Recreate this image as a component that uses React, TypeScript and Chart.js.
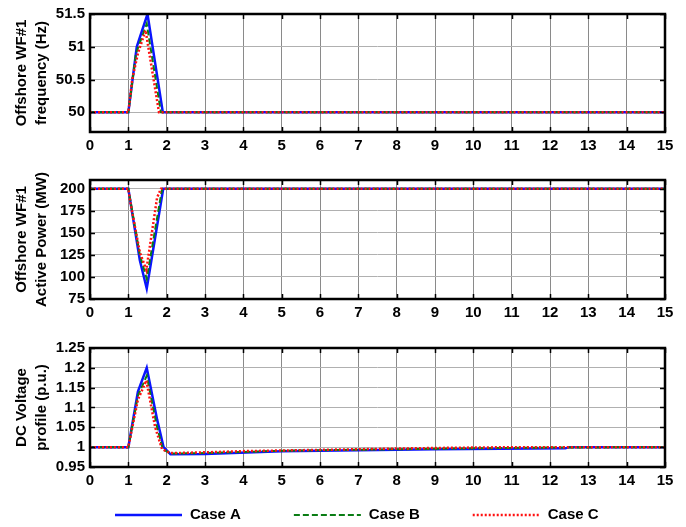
import React, { useEffect, useRef } from "react";
import { Chart, registerables } from "chart.js";

Chart.register(...registerables);

// ---------- data ----------
const xTicks = [0, 1, 2, 3, 4, 5, 6, 7, 8, 9, 10, 11, 12, 13, 14, 15];

const freqTicks = [50, 50.5, 51, 51.5];
const powTicks = [75, 100, 125, 150, 175, 200];
const voltTicks = [0.95, 1, 1.05, 1.1, 1.15, 1.2, 1.25];

const seriesNames = ["Case A", "Case B", "Case C"];

const timeFreqA = [0, 1, 1.22, 1.5, 1.9, 15];
const freqA = [50, 50, 51.0, 51.5, 50, 50];
const timeFreqB = [0, 1, 1.2, 1.48, 1.85, 15];
const freqB = [50, 50, 50.9, 51.35, 50, 50];
const timeFreqC = [0, 1, 1.1, 1.25, 1.45, 1.8, 15];
const freqC = [50, 50, 50.5, 50.9, 51.25, 50, 50];

const timePowA = [0, 1, 1.3, 1.48, 1.91, 15];
const powA = [200, 200, 119, 87, 200, 200];
const timePowB = [0, 1, 1.3, 1.48, 1.88, 15];
const powB = [200, 200, 125, 98, 200, 200];
const timePowC = [0, 1, 1.05, 1.3, 1.47, 1.75, 1.85, 15];
const powC = [200, 200, 185, 128, 108, 190, 200, 200];

const timeVoltA = [0, 1, 1.25, 1.48, 1.75, 1.92, 2.1, 3, 5, 9, 12.4, 12.5, 15];
const voltA = [1, 1, 1.14, 1.2, 1.07, 1.0, 0.982, 0.983, 0.99, 0.995, 0.997, 1.0, 1.0];
const timeVoltB = [0, 1, 1.25, 1.48, 1.75, 1.9, 2.1, 3, 5, 9, 12, 15];
const voltB = [1, 1, 1.13, 1.18, 1.05, 0.995, 0.984, 0.985, 0.991, 0.996, 0.999, 1.0];
const timeVoltC = [0, 1, 1.25, 1.47, 1.7, 1.88, 2.1, 3, 4, 9, 11, 15];
const voltC = [1, 1, 1.12, 1.168, 1.05, 0.995, 0.985, 0.987, 0.99, 0.998, 1.0, 1.0];

// ---------- styles ----------
const FONT = "'Liberation Sans', Arial, Helvetica, sans-serif";
const styles = [
  { color: "#0a14ff", width: 2.5, dash: [] as number[], order: 3 },
  { color: "#0a7d14", width: 2, dash: [6, 3], order: 2 },
  { color: "#ff1010", width: 2.5, dash: [2, 2], order: 1 },
];

const zip = (xs: number[], ys: number[]) => xs.map((x, i) => ({ x, y: ys[i] }));

function makeDatasets(series: [number[], number[]][]) {
  return series.map(([xs, ys], i) => ({
    label: seriesNames[i],
    data: zip(xs, ys),
    borderColor: styles[i].color,
    backgroundColor: styles[i].color,
    borderWidth: styles[i].width,
    borderDash: styles[i].dash,
    pointRadius: 0,
    tension: 0,
    order: styles[i].order,
  }));
}

const framePlugin = {
  id: "frame",
  afterDraw(chart: any) {
    const { ctx, chartArea: a, scales } = chart;
    ctx.save();
    ctx.strokeStyle = "#000";
    ctx.lineWidth = 1.5;
    const L = 5;
    ctx.beginPath();
    for (const v of xTicks) {
      const px = Math.round(scales.x.getPixelForValue(v)) + 0.5;
      ctx.moveTo(px, a.bottom);
      ctx.lineTo(px, a.bottom - L);
      ctx.moveTo(px, a.top);
      ctx.lineTo(px, a.top + L);
    }
    for (const t of scales.y.ticks) {
      const py = Math.round(scales.y.getPixelForValue(t.value)) + 0.5;
      ctx.moveTo(a.left, py);
      ctx.lineTo(a.left + L, py);
      ctx.moveTo(a.right, py);
      ctx.lineTo(a.right - L, py);
    }
    ctx.stroke();
    ctx.lineWidth = 2.5;
    ctx.strokeRect(a.left, a.top, a.right - a.left, a.bottom - a.top);
    ctx.restore();
  },
};

const legendPlugin = {
  id: "bottomLegend",
  afterDraw(chart: any) {
    const opts = chart.options.plugins.bottomLegend;
    if (!opts || !opts.show) return;
    const { ctx } = chart;
    const y = opts.y;
    let x = opts.x;
    ctx.save();
    ctx.font = `bold 15px ${FONT}`;
    ctx.textBaseline = "middle";
    ctx.fillStyle = "#000";
    chart.data.datasets.forEach((ds: any) => {
      ctx.beginPath();
      ctx.strokeStyle = ds.borderColor;
      ctx.lineWidth = ds.borderWidth;
      ctx.setLineDash(ds.borderDash || []);
      ctx.moveTo(x, y);
      ctx.lineTo(x + opts.lineLen, y);
      ctx.stroke();
      ctx.setLineDash([]);
      x += opts.lineLen + 8;
      ctx.fillText(ds.label, x, y);
      x += ctx.measureText(ds.label).width + opts.gap;
    });
    ctx.restore();
  },
};

type PanelProps = {
  top: number;
  height: number;
  padTop: number;
  padBottom: number;
  series: [number[], number[]][];
  yMin: number;
  yMax: number;
  yTicks: number[];
  title: string[];
  legend?: boolean;
};

function Panel(p: PanelProps) {
  const ref = useRef<HTMLCanvasElement>(null);
  useEffect(() => {
    const chart = new Chart(ref.current as HTMLCanvasElement, {
      type: "line",
      data: { datasets: makeDatasets(p.series) as any },
      plugins: [framePlugin, legendPlugin],
      options: {
        responsive: false,
        animation: false,
        layout: { padding: { top: p.padTop, right: 21, left: 0, bottom: p.padBottom } },
        plugins: {
          legend: { display: false },
          tooltip: { enabled: false },
          bottomLegend: { show: !!p.legend, x: 115, y: 188, lineLen: 67, gap: 53 },
        } as any,
        scales: {
          x: {
            type: "linear",
            min: 0,
            max: 15,
            afterBuildTicks: (s: any) => {
              s.ticks = xTicks.map((v) => ({ value: v }));
            },
            afterFit: (s: any) => {
              s.height = 28;
            },
            grid: { color: "#8a8a8a", lineWidth: 1, drawTicks: false },
            border: { display: false },
            ticks: {
              color: "#000",
              padding: 5,
              maxRotation: 0,
              autoSkip: false,
              font: { family: FONT, size: 15, weight: "bold" },
              callback: (v: any) => String(v),
            },
          },
          y: {
            type: "linear",
            min: p.yMin,
            max: p.yMax,
            afterBuildTicks: (s: any) => {
              s.ticks = p.yTicks.map((v) => ({ value: v }));
            },
            afterFit: (s: any) => {
              s.width = 90;
            },
            grid: { color: "#b0b0b0", lineWidth: 1, drawTicks: false },
            border: { display: false },
            ticks: {
              color: "#000",
              padding: 5,
              autoSkip: false,
              font: { family: FONT, size: 15, weight: "bold" },
              callback: (v: any) => String(v),
            },
            title: {
              display: true,
              text: p.title,
              color: "#000",
              padding: { top: 12, bottom: 0 },
              font: { family: FONT, size: 15, weight: "bold", lineHeight: 1.33 },
            },
          },
        },
      } as any,
    });
    return () => chart.destroy();
  }, []);
  return (
    <canvas
      ref={ref}
      width={686}
      height={p.height}
      style={{ position: "absolute", left: 0, top: p.top, display: "block" }}
    />
  );
}

export default function App() {
  return (
    <div style={{ position: "absolute", left: 0, top: 0, width: 686, height: 527, background: "#fff" }}>
      <Panel
        top={0}
        height={160}
        padTop={13}
        padBottom={0}
        series={[
          [timeFreqA, freqA],
          [timeFreqB, freqB],
          [timeFreqC, freqC],
        ]}
        yMin={49.7}
        yMax={51.5}
        yTicks={freqTicks}
        title={["Offshore WF#1", "frequency (Hz)"]}
      />
      <Panel
        top={160}
        height={167}
        padTop={20}
        padBottom={0}
        series={[
          [timePowA, powA],
          [timePowB, powB],
          [timePowC, powC],
        ]}
        yMin={75}
        yMax={210}
        yTicks={powTicks}
        title={["Offshore WF#1", "Active Power (MW)"]}
      />
      <Panel
        top={327}
        height={200}
        padTop={21}
        padBottom={32}
        series={[
          [timeVoltA, voltA],
          [timeVoltB, voltB],
          [timeVoltC, voltC],
        ]}
        yMin={0.95}
        yMax={1.25}
        yTicks={voltTicks}
        title={["DC Voltage", "profile (p.u.)"]}
        legend
      />
    </div>
  );
}
